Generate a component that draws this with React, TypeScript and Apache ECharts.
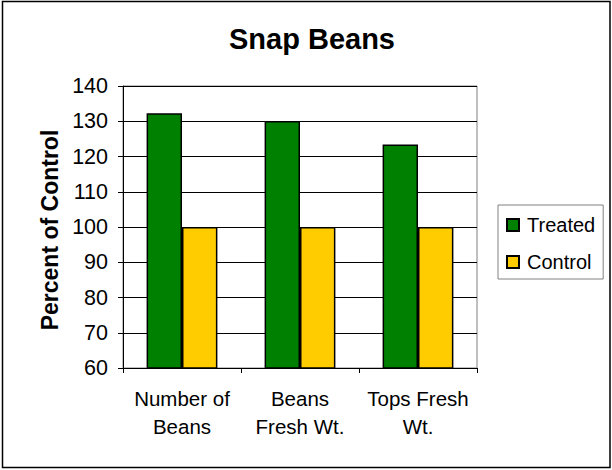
import React, { useEffect, useRef } from "react";
import * as echarts from "echarts";

const categories = ["Number of\nBeans", "Beans\nFresh Wt.", "Tops Fresh\nWt."];
const treated = [132.3, 130.1, 123.4];
const control = [100, 100, 100];
const yMin = 60;
const yMax = 140;
const yInterval = 10;

const FONT = '"Liberation Sans", Arial, sans-serif';

export default function App() {
  const ref = useRef<HTMLDivElement>(null);
  useEffect(() => {
    if (!ref.current) return;
    const chart = echarts.init(ref.current, null, { renderer: "svg" });
    chart.setOption({
      animation: false,
      backgroundColor: "#ffffff",
      textStyle: { fontFamily: FONT },
      title: {
        text: "Snap Beans",
        left: 224,
        top: 19,
        textStyle: { fontSize: 29, fontWeight: "bold", color: "#000", fontFamily: FONT },
      },
      legend: {
        orient: "vertical",
        left: 498,
        top: 205,
        width: 106,
        padding: [10, 8, 7, 8],
        itemGap: 17,
        itemWidth: 12,
        itemHeight: 12,
        borderColor: "#808080",
        borderWidth: 1,
        icon: "rect",
        textStyle: { fontSize: 20, color: "#000", fontFamily: FONT, padding: [0, 0, 0, 3] },
        data: ["Treated", "Control"],
      },
      grid: {
        left: 123,
        top: 86,
        right: 135,
        bottom: 102,
        show: true,
        borderColor: "#808080",
        borderWidth: 1,
        backgroundColor: "#ffffff",
      },
      xAxis: {
        type: "category",
        data: categories,
        axisLine: { lineStyle: { color: "#000", width: 1 } },
        axisTick: { show: true, length: 5, inside: false, interval: 0, lineStyle: { color: "#000" } },
        axisLabel: {
          fontSize: 20.5,
          lineHeight: 28,
          color: "#000",
          fontFamily: FONT,
          margin: 16,
          interval: 0,
        },
      },
      yAxis: {
        type: "value",
        min: yMin,
        max: yMax,
        interval: yInterval,
        name: "Percent of Control",
        nameLocation: "middle",
        nameRotate: 90,
        nameGap: 58,
        nameTextStyle: {
          fontSize: 23,
          fontWeight: "bold",
          color: "#000",
          fontFamily: FONT,
          padding: [0, 6, 0, 0],
        },
        axisLine: { show: true, lineStyle: { color: "#000", width: 1 } },
        axisTick: { show: true, length: 5, lineStyle: { color: "#000" } },
        axisLabel: { fontSize: 21.5, color: "#000", fontFamily: FONT, margin: 15 },
        splitLine: { show: true, lineStyle: { color: "#000", width: 1 } },
      },
      series: [
        {
          name: "Treated",
          type: "bar",
          data: treated,
          barGap: "0%",
          barCategoryGap: "40%",
          itemStyle: { color: "#008000", borderColor: "#000", borderWidth: 1.5 },
        },
        {
          name: "Control",
          type: "bar",
          data: control,
          barGap: "0%",
          barCategoryGap: "40%",
          itemStyle: { color: "#FFCC00", borderColor: "#000", borderWidth: 1.5 },
        },
      ],
      graphic: [
        {
          type: "rect",
          shape: { x: 2.5, y: 1.5, width: 607.5, height: 466 },
          style: { fill: "none", stroke: "#000", lineWidth: 1.5 },
          silent: true,
          z: 100,
        },
      ],
    });
    return () => chart.dispose();
  }, []);
  return (
    <div
      ref={ref}
      style={{ position: "fixed", left: 0, top: 0, width: 612, height: 470, background: "#fff" }}
    />
  );
}
